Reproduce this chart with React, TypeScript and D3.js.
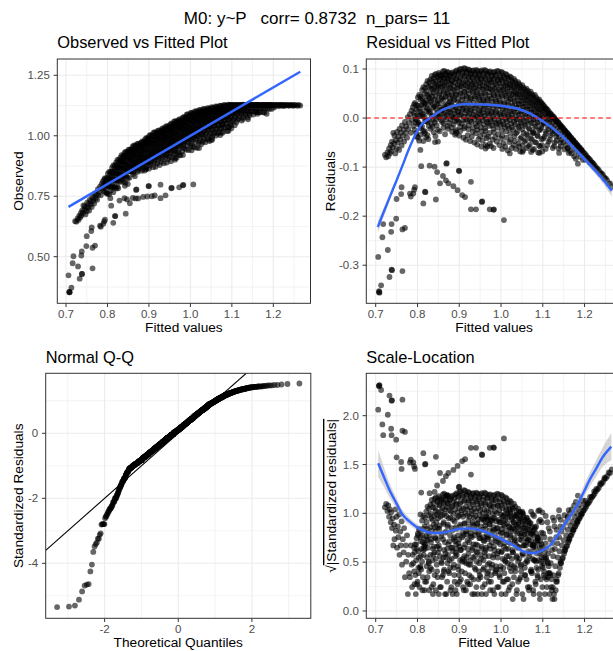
import React from "react";
import * as d3 from "d3";

// ---------------- DATA ----------------
const plotTitle = "M0: y~P   corr= 0.8732  n_pars= 11";
const panelTitles = ["Observed vs Fitted Plot", "Residual vs Fitted Plot", "Normal Q-Q", "Scale-Location"];

// [fitted value, residual] of the ascending left arm
const armPoints: [number, number][] = [
  [0.722, -0.075], [0.725, -0.08], [0.728, -0.07], [0.73, -0.078], [0.732, -0.062], [0.734, -0.072],
  [0.736, -0.055], [0.737, -0.068], [0.739, -0.048], [0.741, -0.06], [0.742, -0.03], [0.744, -0.052],
  [0.745, -0.036], [0.747, -0.072], [0.748, -0.045], [0.75, -0.062], [0.751, -0.028], [0.753, -0.05],
  [0.754, -0.038], [0.756, -0.065], [0.757, -0.022], [0.759, -0.044], [0.76, -0.03], [0.762, -0.056],
  [0.763, -0.015], [0.765, -0.036], [0.767, -0.024], [0.768, -0.048], [0.77, -0.008], [0.772, -0.03],
  [0.773, -0.017], [0.775, -0.04], [0.777, 0.002], [0.778, -0.022], [0.78, -0.01], [0.782, 0.008],
  [0.784, -0.03], [0.786, 0.015], [0.787, -0.004], [0.789, 0.022], [0.79, -0.016], [0.792, 0.028],
  [0.793, 0.005],
];

// [fitted value, residual] of the scattered points below the main cloud
const lowerPoints: [number, number][] = [
  [0.706, -0.283], [0.708, -0.353], [0.709, -0.356], [0.708, -0.355], [0.713, -0.341], [0.716, -0.243],
  [0.718, -0.216], [0.729, -0.269], [0.738, -0.216], [0.737, -0.232], [0.738, -0.309], [0.739, -0.31],
  [0.733, -0.324], [0.749, -0.205], [0.75, -0.165], [0.764, -0.312], [0.764, -0.227], [0.77, -0.224],
  [0.761, -0.155], [0.762, -0.141], [0.782, -0.154], [0.79, -0.154], [0.792, -0.146], [0.784, -0.16],
  [0.794, -0.141], [0.807, -0.065], [0.809, -0.098], [0.814, -0.174], [0.818, -0.15], [0.819, -0.151],
  [0.829, -0.097], [0.841, -0.099], [0.847, -0.11], [0.844, -0.166], [0.854, -0.133], [0.861, -0.118],
  [0.869, -0.093], [0.87, -0.092], [0.868, -0.127], [0.874, -0.133], [0.886, -0.139], [0.899, -0.107],
  [0.9, -0.108], [0.896, -0.147], [0.907, -0.157], [0.914, -0.161], [0.928, -0.13], [0.928, -0.186],
  [0.94, -0.186], [0.954, -0.171], [0.955, -0.17], [0.973, -0.186], [0.982, -0.187], [0.983, -0.186],
  [1.007, -0.208], [0.849, -0.048], [0.963, -0.062], [0.967, -0.058], [1.021, -0.072], [1.092, -0.071],
  [1.139, -0.071], [1.16, -0.062], [1.184, -0.093], [1.051, -0.069], [1.076, -0.031], [0.893, -0.027],
];

// [fitted value, residual] of the main cloud
const cloudPoints: [number, number][] = [
  [.794, .031], [.797, .018], [.792, .011], [.796, -.002], [.795, -.009], [.793, -.024], [.798, -.037],
  [.801, .042], [.798, .027], [.803, .02], [.8, .006], [.799, -.005], [.802, -.013], [.797, -.031], [.804, -.046],
  [.804, .047], [.807, .038], [.802, .025], [.806, .013], [.805, .004], [.803, -.01], [.808, -.021], [.801, -.04],
  [.811, .057], [.808, .044], [.813, .033], [.81, .027], [.809, .012], [.812, .003], [.807, -.014], [.814, -.026], [.808, -.034],
  [.814, .063], [.817, .05], [.812, .04], [.816, .029], [.815, .022], [.813, .008], [.818, -.006], [.811, -.017], [.817, -.031], [.814, -.047],
  [.821, .069], [.818, .061], [.823, .047], [.82, .036], [.819, .031], [.822, .014], [.817, .003], [.824, -.008], [.818, -.027], [.821, -.039],
  [.824, .076], [.827, .064], [.822, .055], [.826, .043], [.825, .028], [.823, .02], [.828, .011], [.821, -.006], [.827, -.016], [.824, -.035],
  [.831, .079], [.828, .073], [.833, .06], [.83, .049], [.829, .04], [.832, .033], [.827, .017], [.834, .004], [.828, -.003], [.831, -.022], [.826, -.043],
  [.834, .086], [.837, .075], [.832, .066], [.836, .058], [.835, .045], [.833, .036], [.838, .022], [.831, .013], [.837, -.002], [.834, -.012], [.839, -.029],
  [.841, .088], [.838, .081], [.843, .07], [.84, .063], [.839, .052], [.842, .038], [.837, .027], [.844, .019], [.838, .005], [.841, -.009], [.836, -.018], [.842, -.049],
  [.844, .09], [.847, .085], [.842, .074], [.846, .065], [.845, .055], [.843, .044], [.848, .035], [.841, .024], [.847, .011], [.844, -.003], [.849, -.024], [.843, -.037],
  [.851, .092], [.848, .083], [.853, .078], [.85, .068], [.849, .06], [.852, .047], [.847, .029], [.854, .021], [.848, .008], [.851, .002], [.846, -.015],
  [.854, .089], [.857, .087], [.852, .079], [.856, .07], [.855, .062], [.853, .051], [.858, .042], [.851, .03], [.857, .017], [.854, .004], [.859, -.008], [.853, -.027],
  [.861, .095], [.858, .086], [.863, .081], [.86, .074], [.859, .064], [.862, .053], [.857, .039], [.864, .026], [.858, .016], [.861, .009], [.856, -.004], [.862, -.02],
  [.864, .096], [.867, .091], [.862, .083], [.866, .072], [.865, .066], [.863, .055], [.868, .044], [.861, .036], [.867, .023], [.864, .012], [.869, -.002], [.863, -.011], [.866, -.033],
  [.871, .094], [.868, .088], [.873, .08], [.87, .075], [.869, .063], [.872, .05], [.867, .043], [.874, .031], [.868, .02], [.871, .006], [.866, .002], [.872, -.016],
  [.874, .093], [.877, .085], [.872, .082], [.876, .071], [.875, .06], [.873, .052], [.878, .04], [.871, .027], [.877, .018], [.874, .011], [.879, -.003], [.873, -.022],
  [.881, .091], [.878, .087], [.883, .077], [.88, .069], [.879, .061], [.882, .048], [.877, .034], [.884, .025], [.878, .013], [.881, .004], [.876, -.01], [.882, -.019],
  [.884, .093], [.887, .084], [.882, .076], [.886, .066], [.885, .058], [.883, .045], [.888, .038], [.881, .028], [.887, .015], [.884, .002], [.889, -.006], [.883, -.028],
  [.891, .095], [.888, .089], [.893, .079], [.89, .072], [.889, .056], [.892, .049], [.887, .036], [.894, .022], [.888, .009], [.891, .003], [.886, -.013], [.892, -.024], [.89, -.034],
  [.894, .097], [.897, .09], [.892, .081], [.896, .068], [.895, .061], [.893, .047], [.898, .032], [.891, .021], [.897, .014], [.894, -.002], [.899, -.009], [.893, -.031],
  [.901, .099], [.898, .092], [.903, .083], [.9, .074], [.899, .063], [.902, .052], [.897, .04], [.904, .026], [.898, .012], [.901, .006], [.896, -.005], [.902, -.018], [.9, -.036],
  [.904, .1], [.907, .094], [.902, .08], [.906, .071], [.905, .065], [.903, .05], [.908, .043], [.901, .029], [.907, .017], [.904, .007], [.909, -.004], [.903, -.026],
  [.911, .102], [.908, .091], [.913, .086], [.91, .073], [.909, .062], [.912, .054], [.907, .038], [.914, .031], [.908, .019], [.911, .003], [.906, -.011], [.912, -.021], [.91, -.04],
  [.914, .101], [.917, .095], [.912, .084], [.916, .076], [.915, .067], [.913, .053], [.918, .041], [.911, .028], [.917, .016], [.914, .01], [.919, -.006], [.913, -.017], [.916, -.044],
  [.921, .099], [.918, .093], [.923, .085], [.92, .072], [.919, .064], [.922, .057], [.917, .045], [.924, .033], [.918, .02], [.921, .005], [.916, -.003], [.922, -.023], [.92, -.035],
  [.924, .098], [.927, .089], [.922, .082], [.926, .075], [.925, .062], [.923, .05], [.928, .042], [.921, .027], [.927, .015], [.924, .009], [.929, -.008], [.923, -.015], [.926, -.047],
  [.931, .096], [.928, .091], [.933, .079], [.93, .07], [.929, .066], [.932, .055], [.927, .039], [.934, .031], [.928, .018], [.931, .002], [.926, -.005], [.932, -.028], [.93, -.038],
  [.934, .097], [.937, .088], [.932, .083], [.936, .073], [.935, .061], [.933, .052], [.938, .044], [.931, .026], [.937, .013], [.934, .007], [.939, -.012], [.933, -.02], [.936, -.05],
  [.941, .098], [.938, .092], [.943, .08], [.94, .069], [.939, .063], [.942, .048], [.937, .04], [.944, .03], [.938, .021], [.941, .004], [.936, -.002], [.942, -.017], [.94, -.031], [.943, -.054],
  [.944, .096], [.947, .087], [.942, .084], [.946, .074], [.945, .059], [.943, .053], [.948, .037], [.941, .025], [.947, .011], [.944, .002], [.949, -.009], [.943, -.024], [.946, -.043],
  [.951, .095], [.948, .09], [.953, .078], [.95, .071], [.949, .064], [.952, .05], [.947, .041], [.954, .029], [.948, .016], [.951, .008], [.946, -.007], [.952, -.019], [.95, -.037], [.953, -.058],
  [.954, .097], [.957, .086], [.952, .081], [.956, .067], [.955, .06], [.953, .046], [.958, .035], [.951, .022], [.957, .012], [.954, .002], [.959, -.013], [.953, -.027], [.956, -.046],
  [.961, .098], [.958, .091], [.963, .079], [.96, .072], [.959, .058], [.962, .051], [.957, .038], [.964, .028], [.958, .018], [.961, .005], [.956, -.004], [.962, -.021], [.96, -.034], [.963, -.055],
  [.964, .096], [.967, .088], [.962, .082], [.966, .07], [.965, .062], [.963, .047], [.968, .036], [.961, .024], [.967, .01], [.964, -.002], [.969, -.011], [.963, -.026], [.966, -.041],
  [.971, .094], [.968, .09], [.973, .077], [.97, .068], [.969, .061], [.972, .053], [.967, .039], [.974, .027], [.968, .015], [.971, .006], [.966, -.008], [.972, -.016], [.97, -.038], [.973, -.052],
  [.974, .095], [.977, .085], [.972, .079], [.976, .073], [.975, .059], [.973, .045], [.978, .033], [.971, .021], [.977, .009], [.974, -.003], [.979, -.015], [.973, -.03], [.976, -.057],
  [.981, .093], [.978, .087], [.983, .08], [.98, .066], [.979, .057], [.982, .049], [.977, .04], [.984, .026], [.978, .013], [.981, .003], [.976, -.006], [.982, -.022], [.98, -.044],
  [.984, .094], [.987, .086], [.982, .076], [.986, .069], [.985, .06], [.983, .046], [.988, .034], [.981, .02], [.987, .011], [.984, -.002], [.989, -.012], [.983, -.029], [.986, -.039], [.982, -.061],
  [.991, .096], [.988, .088], [.993, .078], [.99, .067], [.989, .056], [.992, .048], [.987, .037], [.994, .025], [.988, .014], [.991, .004], [.986, -.01], [.992, -.02], [.99, -.048],
  [.994, .095], [.997, .083], [.992, .077], [.996, .071], [.995, .058], [.993, .044], [.998, .031], [.991, .023], [.997, .008], [.994, -.004], [.999, -.014], [.993, -.033], [.996, -.055],
  [1.001, .094], [.998, .087], [1.003, .074], [1.0, .065], [.999, .055], [1.002, .047], [.997, .036], [1.004, .019], [.998, .012], [1.001, .002], [.996, -.009], [1.002, -.025], [1.0, -.042], [1.003, -.063],
  [1.004, .092], [1.007, .084], [1.002, .078], [1.006, .063], [1.005, .057], [1.003, .043], [1.008, .032], [1.001, .024], [1.007, .006], [1.004, -.006], [1.009, -.018], [1.003, -.036], [1.006, -.051],
  [1.011, .09], [1.008, .081], [1.013, .073], [1.01, .066], [1.009, .052], [1.012, .045], [1.007, .029], [1.014, .021], [1.008, .01], [1.011, -.002], [1.006, -.013], [1.012, -.027], [1.01, -.058],
  [1.014, .088], [1.017, .082], [1.012, .071], [1.016, .061], [1.015, .054], [1.013, .041], [1.018, .033], [1.011, .017], [1.017, .007], [1.014, -.007], [1.019, -.021], [1.013, -.04], [1.016, -.066],
  [1.021, .085], [1.018, .078], [1.023, .069], [1.02, .063], [1.019, .05], [1.022, .038], [1.017, .027], [1.024, .015], [1.018, .003], [1.021, -.004], [1.016, -.016], [1.022, -.032], [1.02, -.049],
  [1.024, .083], [1.027, .075], [1.022, .067], [1.026, .058], [1.025, .047], [1.023, .04], [1.028, .024], [1.021, .013], [1.027, .005], [1.024, -.011], [1.029, -.024], [1.023, -.044], [1.026, -.061],
  [1.031, .08], [1.028, .073], [1.033, .064], [1.03, .055], [1.029, .049], [1.032, .035], [1.027, .026], [1.034, .011], [1.028, .001], [1.031, -.008], [1.026, -.019], [1.032, -.037], [1.03, -.055],
  [1.034, .076], [1.037, .07], [1.032, .062], [1.036, .052], [1.035, .044], [1.033, .033], [1.038, .021], [1.031, .014], [1.037, -.002], [1.034, -.013], [1.039, -.028], [1.033, -.047], [1.036, -.063],
  [1.041, .073], [1.038, .065], [1.043, .06], [1.04, .049], [1.039, .042], [1.042, .029], [1.037, .02], [1.044, .007], [1.038, -.003], [1.041, -.017], [1.036, -.031], [1.042, -.052],
  [1.044, .069], [1.047, .064], [1.042, .054], [1.046, .047], [1.045, .036], [1.043, .028], [1.048, .015], [1.041, .006], [1.047, -.008], [1.044, -.019], [1.049, -.039], [1.043, -.058], [1.046, -.068],
  [1.051, .067], [1.048, .059], [1.053, .053], [1.05, .042], [1.049, .035], [1.052, .023], [1.047, .014], [1.054, .001], [1.048, -.011], [1.051, -.023], [1.046, -.042], [1.052, -.056],
  [1.054, .062], [1.057, .058], [1.052, .048], [1.056, .041], [1.055, .03], [1.053, .022], [1.058, .009], [1.051, -.002], [1.057, -.013], [1.054, -.03], [1.059, -.045], [1.053, -.066],
  [1.061, .06], [1.058, .052], [1.063, .047], [1.06, .037], [1.059, .03], [1.062, .018], [1.057, .009], [1.064, -.004], [1.058, -.016], [1.061, -.033], [1.056, -.048], [1.062, -.061],
  [1.064, .056], [1.067, .051], [1.062, .042], [1.066, .036], [1.065, .025], [1.063, .017], [1.068, .004], [1.061, -.007], [1.067, -.021], [1.064, -.035], [1.069, -.054],
  [1.071, .054], [1.068, .046], [1.073, .041], [1.07, .031], [1.069, .024], [1.072, .012], [1.067, .003], [1.074, -.01], [1.068, -.023], [1.071, -.042], [1.066, -.057], [1.072, -.069],
  [1.074, .049], [1.077, .045], [1.072, .035], [1.076, .03], [1.075, .019], [1.073, .011], [1.078, -.002], [1.071, -.011], [1.077, -.028], [1.074, -.043], [1.079, -.063],
  [1.081, .047], [1.078, .04], [1.083, .034], [1.08, .025], [1.079, .018], [1.082, .006], [1.077, -.003], [1.084, -.017], [1.078, -.03], [1.081, -.049], [1.076, -.065],
  [1.084, .042], [1.087, .038], [1.082, .029], [1.086, .023], [1.085, .013], [1.083, .005], [1.088, -.008], [1.081, -.018], [1.087, -.035], [1.084, -.05], [1.089, -.07],
  [1.091, .038], [1.088, .033], [1.093, .028], [1.09, .018], [1.089, .012], [1.092, .002], [1.087, -.009], [1.094, -.024], [1.088, -.037], [1.091, -.056],
  [1.094, .034], [1.097, .031], [1.092, .023], [1.096, .017], [1.095, .007], [1.093, -.001], [1.098, -.014], [1.091, -.025], [1.097, -.043], [1.094, -.058], [1.099, -.068],
  [1.101, .027], [1.098, .029], [1.103, .02], [1.1, .013], [1.099, .004], [1.102, -.009], [1.097, -.02], [1.104, -.038], [1.098, -.055],
  [1.104, .024], [1.107, .02], [1.102, .016], [1.106, .008], [1.105, -.002], [1.103, -.011], [1.108, -.027], [1.101, -.042], [1.107, -.063],
  [1.111, .017], [1.108, .019], [1.113, .01], [1.11, .004], [1.109, -.007], [1.112, -.016], [1.107, -.032], [1.114, -.048],
  [1.114, .014], [1.117, .01], [1.112, .008], [1.116, -.002], [1.115, -.01], [1.113, -.023], [1.118, -.036], [1.111, -.055],
  [1.121, .007], [1.118, .009], [1.123, .001], [1.12, -.004], [1.119, -.016], [1.122, -.026], [1.117, -.044], [1.124, -.061],
  [1.124, .004], [1.127, .002], [1.122, .003], [1.126, -.009], [1.125, -.021], [1.123, -.032], [1.128, -.05],
  [1.131, -.003], [1.128, -.001], [1.133, -.007], [1.13, -.014], [1.129, -.027], [1.132, -.038], [1.127, -.057],
  [1.134, -.006], [1.137, -.009], [1.132, -.006], [1.136, -.02], [1.135, -.032], [1.133, -.046], [1.138, -.062],
  [1.141, -.013], [1.138, -.01], [1.143, -.017], [1.14, -.025], [1.139, -.038], [1.142, -.05],
  [1.144, -.016], [1.147, -.019], [1.142, -.016], [1.146, -.03], [1.145, -.044], [1.143, -.058],
  [1.151, -.023], [1.148, -.02], [1.153, -.027], [1.15, -.035], [1.149, -.049], [1.152, -.064],
  [1.154, -.026], [1.157, -.029], [1.152, -.025], [1.156, -.04], [1.155, -.055],
  [1.161, -.033], [1.158, -.03], [1.163, -.037], [1.16, -.046], [1.159, -.061], [1.162, -.071],
  [1.164, -.036], [1.167, -.04], [1.162, -.035], [1.166, -.051], [1.165, -.067],
  [1.171, -.043], [1.168, -.04], [1.173, -.046], [1.17, -.056], [1.169, -.072],
  [1.174, -.046], [1.177, -.05], [1.172, -.046], [1.176, -.062], [1.175, -.078],
  [1.181, -.053], [1.178, -.05], [1.183, -.057], [1.18, -.067], [1.179, -.083],
  [1.184, -.056], [1.187, -.06], [1.182, -.055], [1.186, -.073],
  [1.191, -.063], [1.188, -.06], [1.193, -.066], [1.19, -.079],
  [1.194, -.066], [1.197, -.07], [1.192, -.066], [1.196, -.085],
  [1.201, -.073], [1.198, -.071], [1.203, -.079],
  [1.204, -.076], [1.207, -.08], [1.202, -.085],
  [1.211, -.083], [1.208, -.081], [1.213, -.091],
  [1.214, -.086], [1.217, -.09],
  [1.221, -.093], [1.218, -.091], [1.223, -.1],
  [1.224, -.096], [1.227, -.1],
  [1.231, -.103], [1.228, -.104],
  [1.234, -.106], [1.237, -.111],
  [1.241, -.113], [1.238, -.114],
  [1.244, -.116], [1.247, -.121],
  [1.251, -.123], [1.248, -.124],
  [1.254, -.127],
  [1.261, -.133], [1.258, -.134],
  [1.265, -.14],
];

const residualSigma = 0.0666; // residual standard error (std. residual = residual / sigma)
const lmIntercept = 0; // observed ~ fitted line
const lmSlope = 1;
const qqIntercept = 0; // Q-Q reference line
const qqSlope = 1;

// loess smooth of residuals: [fitted, value, half-width of band]
const residSmooth: [number, number, number][] = [
  [0.705, -0.222, 0.012], [0.72, -0.19, 0.009], [0.735, -0.158, 0.007], [0.75, -0.127, 0.006],
  [0.765, -0.095, 0.005], [0.78, -0.062, 0.004], [0.795, -0.034, 0.004], [0.81, -0.013, 0.003],
  [0.83, 0.0, 0.003], [0.85, 0.012, 0.003], [0.866, 0.019, 0.003], [0.89, 0.026, 0.003],
  [0.914, 0.0285, 0.003], [0.94, 0.028, 0.003], [0.973, 0.027, 0.003], [1.0, 0.025, 0.003],
  [1.03, 0.021, 0.003], [1.05, 0.016, 0.003], [1.07, 0.009, 0.003], [1.088, 0.0, 0.003],
  [1.11, -0.012, 0.003], [1.13, -0.025, 0.004], [1.15, -0.04, 0.004], [1.18, -0.066, 0.005],
  [1.21, -0.093, 0.006], [1.24, -0.121, 0.008], [1.265, -0.148, 0.012],
];

// loess smooth of sqrt(|standardized residuals|): [fitted, value, half-width of band]
const scaleSmooth: [number, number, number][] = [
  [0.706, 1.512, 0.14], [0.72, 1.37, 0.1], [0.733, 1.239, 0.075], [0.75, 1.1, 0.055],
  [0.765, 0.983, 0.045], [0.78, 0.92, 0.038], [0.797, 0.863, 0.033], [0.813, 0.825, 0.03],
  [0.829, 0.802, 0.03], [0.845, 0.797, 0.03], [0.861, 0.802, 0.03], [0.877, 0.818, 0.03],
  [0.893, 0.836, 0.03], [0.91, 0.843, 0.03], [0.925, 0.846, 0.03], [0.94, 0.838, 0.03],
  [0.957, 0.819, 0.03], [0.973, 0.792, 0.03], [0.989, 0.761, 0.03], [1.005, 0.728, 0.03],
  [1.021, 0.693, 0.03], [1.037, 0.652, 0.03], [1.052, 0.614, 0.03], [1.068, 0.597, 0.032],
  [1.084, 0.597, 0.035], [1.1, 0.622, 0.036], [1.116, 0.666, 0.038], [1.132, 0.752, 0.04],
  [1.148, 0.863, 0.045], [1.164, 0.96, 0.05], [1.18, 1.068, 0.055], [1.196, 1.2, 0.062],
  [1.212, 1.341, 0.072], [1.228, 1.46, 0.085], [1.244, 1.58, 0.1], [1.264, 1.683, 0.14],
];

const fittedTicks = [0.7, 0.8, 0.9, 1.0, 1.1, 1.2];
const observedTicks = [0.5, 0.75, 1.0, 1.25];
const residualTicks = [-0.3, -0.2, -0.1, 0, 0.1];
const qqXTicks = [-2, 0, 2];
const qqYTicks = [-4, -2, 0];
const scaleTicks = [0, 0.5, 1, 1.5, 2];

// ---------------- helpers ----------------
const FONT = "'Liberation Sans', Arial, Helvetica, sans-serif";

function qnorm(p: number): number {
  const a = [-39.69683028665376, 220.9460984245205, -275.9285104469687, 138.357751867269, -30.66479806614716, 2.506628277459239];
  const b = [-54.47609879822406, 161.5858368580409, -155.6989798598866, 66.80131188771972, -13.28068155288572];
  const c = [-0.007784894002430293, -0.3223964580411365, -2.400758277161838, -2.549732539343734, 4.374664141464968, 2.938163982698783];
  const d = [0.007784695709041462, 0.3224671290700398, 2.445134137142996, 3.754408661907416];
  const pl = 0.02425;
  if (p < pl) {
    const q = Math.sqrt(-2 * Math.log(p));
    return (((((c[0] * q + c[1]) * q + c[2]) * q + c[3]) * q + c[4]) * q + c[5]) / ((((d[0] * q + d[1]) * q + d[2]) * q + d[3]) * q + 1);
  }
  if (p > 1 - pl) {
    const q = Math.sqrt(-2 * Math.log(1 - p));
    return -(((((c[0] * q + c[1]) * q + c[2]) * q + c[3]) * q + c[4]) * q + c[5]) / ((((d[0] * q + d[1]) * q + d[2]) * q + d[3]) * q + 1);
  }
  const q = p - 0.5;
  const r = q * q;
  return (((((a[0] * r + a[1]) * r + a[2]) * r + a[3]) * r + a[4]) * r + a[5]) * q / (((((b[0] * r + b[1]) * r + b[2]) * r + b[3]) * r + b[4]) * r + 1);
}

const fmt = (spec: string) => {
  const f = d3.format(spec);
  return (v: number) => f(v).replace("\u2212", "-");
};

function minorTicks(major: number[], domain: [number, number]) {
  const step = major[1] - major[0];
  const out: number[] = [];
  for (let i = -1; i < major.length; i++) {
    const v = major[0] + (i + 0.5) * step;
    if (v > domain[0] && v < domain[1]) out.push(v);
  }
  return out;
}

type Scale = d3.ScaleLinear<number, number>;

interface PanelProps {
  id: string;
  x0: number; x1: number; y0: number; y1: number;
  xDomain: [number, number]; yDomain: [number, number];
  xTicks: number[]; yTicks: number[];
  xFmt: (v: number) => string; yFmt: (v: number) => string;
  title: string; xLabel: string; yLabel: React.ReactNode;
  yLabelX: number;
  render: (xs: Scale, ys: Scale) => React.ReactNode;
}

function Panel(p: PanelProps) {
  const xs = d3.scaleLinear().domain(p.xDomain).range([p.x0, p.x1]);
  const ys = d3.scaleLinear().domain(p.yDomain).range([p.y1, p.y0]);
  const xm = minorTicks(p.xTicks, p.xDomain);
  const ym = minorTicks(p.yTicks, p.yDomain);
  const grid = "#EBEBEB";
  const cx = (p.x0 + p.x1) / 2;
  const cy = (p.y0 + p.y1) / 2;
  return (
    <g>
      <defs>
        <clipPath id={p.id}>
          <rect x={p.x0} y={p.y0} width={p.x1 - p.x0} height={p.y1 - p.y0} />
        </clipPath>
      </defs>
      <rect x={p.x0} y={p.y0} width={p.x1 - p.x0} height={p.y1 - p.y0} fill="white" />
      {xm.map((v) => (
        <line key={"xm" + v} x1={xs(v)} x2={xs(v)} y1={p.y0} y2={p.y1} stroke={grid} strokeWidth={0.6} />
      ))}
      {ym.map((v) => (
        <line key={"ym" + v} x1={p.x0} x2={p.x1} y1={ys(v)} y2={ys(v)} stroke={grid} strokeWidth={0.6} />
      ))}
      {p.xTicks.map((v) => (
        <line key={"xM" + v} x1={xs(v)} x2={xs(v)} y1={p.y0} y2={p.y1} stroke={grid} strokeWidth={1.1} />
      ))}
      {p.yTicks.map((v) => (
        <line key={"yM" + v} x1={p.x0} x2={p.x1} y1={ys(v)} y2={ys(v)} stroke={grid} strokeWidth={1.1} />
      ))}
      <g clipPath={`url(#${p.id})`}>{p.render(xs, ys)}</g>
      <rect x={p.x0} y={p.y0} width={p.x1 - p.x0} height={p.y1 - p.y0} fill="none" stroke="#333333" strokeWidth={1} />
      {p.xTicks.map((v) => (
        <g key={"xt" + v}>
          <line x1={xs(v)} x2={xs(v)} y1={p.y1} y2={p.y1 + 3.7} stroke="#333333" strokeWidth={1} />
          <text x={xs(v)} y={p.y1 + 14.8} textAnchor="middle" fontSize={11.5} fill="#4D4D4D">{p.xFmt(v)}</text>
        </g>
      ))}
      {p.yTicks.map((v) => (
        <g key={"yt" + v}>
          <line x1={p.x0 - 3.7} x2={p.x0} y1={ys(v)} y2={ys(v)} stroke="#333333" strokeWidth={1} />
          <text x={p.x0 - 7.5} y={ys(v) + 4} textAnchor="end" fontSize={11.5} fill="#4D4D4D">{p.yFmt(v)}</text>
        </g>
      ))}
      <text x={p.x0} y={p.y0 - 10.7} fontSize={16.4} fill="black">{p.title}</text>
      <text x={cx} y={p.y1 + 28.2} textAnchor="middle" fontSize={13.7} fill="black">{p.xLabel}</text>
      <text transform={`translate(${p.yLabelX},${cy}) rotate(-90)`} textAnchor="middle" fontSize={13.7} fill="black">
        {p.yLabel}
      </text>
    </g>
  );
}

// ---------------- derived series ----------------
const allPoints: [number, number][] = [...armPoints, ...lowerPoints, ...cloudPoints];
const rows = allPoints.map(([f, r]) => ({ f, r, obs: f + r, s: r / residualSigma }));
const sortedStd = rows.map((d) => d.s).sort((a, b) => a - b);
const nPts = sortedStd.length;
const qqRows = sortedStd.map((s, i) => ({ q: qnorm((i + 1 - 0.5) / nPts), s }));
const fittedExtent = d3.extent(rows, (d) => d.f) as [number, number];

const PT_R = 2.9;
const PT_OP = 0.6;
const BLUE = "#3366FF";

export default function App() {
  const fitX: [number, number] = [0.6775, 1.2896];

  return (
    <svg
      width={613}
      height={651}
      style={{ position: "absolute", left: 0, top: 0, background: "white", fontFamily: FONT }}
    >
      <rect x={0} y={0} width={613} height={651} fill="white" />
      <text x={317} y={24} textAnchor="middle" fontSize={17} fill="black" style={{ whiteSpace: "pre" }}>
        {plotTitle}
      </text>

      {/* Observed vs Fitted */}
      <Panel
        id="c1" x0={57.3} x1={310.5} y0={59} y1={303.3}
        xDomain={[0.679, 1.2897]} yDomain={[0.3074, 1.3174]}
        xTicks={fittedTicks} yTicks={observedTicks}
        xFmt={fmt(".1f")} yFmt={fmt(".2f")}
        title={panelTitles[0]} xLabel="Fitted values" yLabel="Observed" yLabelX={23.3}
        render={(xs, ys) => (
          <g>
            {rows.map((d, i) => (
              <circle key={i} cx={xs(d.f)} cy={ys(d.obs)} r={PT_R} fill="black" fillOpacity={PT_OP} />
            ))}
            <line
              x1={xs(fittedExtent[0])} y1={ys(lmIntercept + lmSlope * fittedExtent[0])}
              x2={xs(fittedExtent[1])} y2={ys(lmIntercept + lmSlope * fittedExtent[1])}
              stroke={BLUE} strokeWidth={2.4}
            />
          </g>
        )}
      />

      {/* Residual vs Fitted */}
      <Panel
        id="c2" x0={366.3} x1={622} y0={59} y1={303.3}
        xDomain={fitX} yDomain={[-0.3776, 0.1204]}
        xTicks={fittedTicks} yTicks={residualTicks}
        xFmt={fmt(".1f")} yFmt={fmt(".1f")}
        title={panelTitles[1]} xLabel="Fitted values" yLabel="Residuals" yLabelX={335.3}
        render={(xs, ys) => {
          const area = d3.area<[number, number, number]>()
            .x((d) => xs(d[0])).y0((d) => ys(d[1] - d[2])).y1((d) => ys(d[1] + d[2]))
            .curve(d3.curveCatmullRom);
          const line = d3.line<[number, number, number]>()
            .x((d) => xs(d[0])).y((d) => ys(d[1])).curve(d3.curveCatmullRom);
          return (
            <g>
              {rows.map((d, i) => (
                <circle key={i} cx={xs(d.f)} cy={ys(d.r)} r={PT_R} fill="black" fillOpacity={PT_OP} />
              ))}
              <path d={area(residSmooth) || ""} fill="#999999" fillOpacity={0.4} />
              <path d={line(residSmooth) || ""} fill="none" stroke={BLUE} strokeWidth={2.4} />
              <line x1={366.3} x2={622} y1={ys(0)} y2={ys(0)} stroke="#FF0000" strokeWidth={1.1} strokeDasharray="4.5,3.5" />
            </g>
          );
        }}
      />

      {/* Normal Q-Q */}
      <Panel
        id="c3" x0={45.7} x1={310.8} y0={373.3} y1={618.3}
        xDomain={[-3.6, 3.6]} yDomain={[-5.692, 1.846]}
        xTicks={qqXTicks} yTicks={qqYTicks}
        xFmt={fmt("d")} yFmt={fmt("d")}
        title={panelTitles[2]} xLabel="Theoretical Quantiles" yLabel="Standardized Residuals" yLabelX={23.3}
        render={(xs, ys) => (
          <g>
            {qqRows.map((d, i) => (
              <circle key={i} cx={xs(d.q)} cy={ys(d.s)} r={PT_R} fill="black" fillOpacity={PT_OP} />
            ))}
            <line
              x1={xs(-3.6)} y1={ys(qqIntercept + qqSlope * -3.6)}
              x2={xs(3.6)} y2={ys(qqIntercept + qqSlope * 3.6)}
              stroke="black" strokeWidth={1.1}
            />
          </g>
        )}
      />

      {/* Scale-Location */}
      <Panel
        id="c4" x0={366.3} x1={622} y0={373.3} y1={618.3}
        xDomain={fitX} yDomain={[-0.0748, 2.434]}
        xTicks={fittedTicks} yTicks={scaleTicks}
        xFmt={fmt(".1f")} yFmt={fmt(".1f")}
        title={panelTitles[3]} xLabel="Fitted Value"
        yLabel={
          <>
            <tspan>√</tspan>
            <tspan style={{ textDecoration: "overline" }}>|Standardized residuals|</tspan>
          </>
        }
        yLabelX={336}
        render={(xs, ys) => {
          const area = d3.area<[number, number, number]>()
            .x((d) => xs(d[0])).y0((d) => ys(d[1] - d[2])).y1((d) => ys(d[1] + d[2]))
            .curve(d3.curveCatmullRom);
          const line = d3.line<[number, number, number]>()
            .x((d) => xs(d[0])).y((d) => ys(d[1])).curve(d3.curveCatmullRom);
          return (
            <g>
              {rows.map((d, i) => (
                <circle key={i} cx={xs(d.f)} cy={ys(Math.sqrt(Math.abs(d.s)))} r={PT_R} fill="black" fillOpacity={PT_OP} />
              ))}
              <path d={area(scaleSmooth) || ""} fill="#999999" fillOpacity={0.4} />
              <path d={line(scaleSmooth) || ""} fill="none" stroke={BLUE} strokeWidth={2.4} />
            </g>
          );
        }}
      />
    </svg>
  );
}
